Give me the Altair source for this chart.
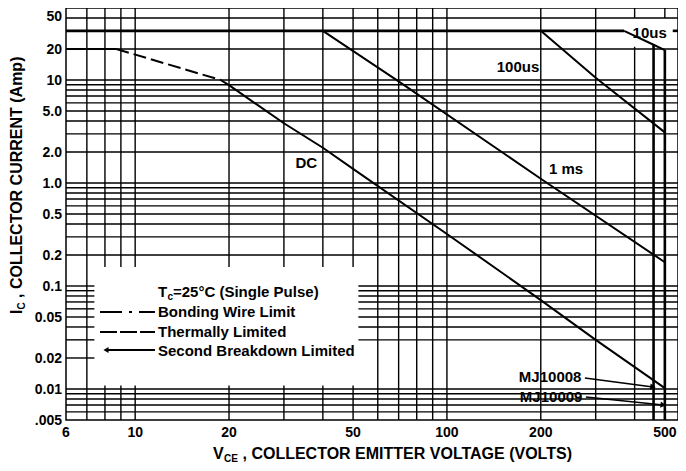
import altair as alt
import pandas as pd

FONT = "Liberation Sans"

# ---- axes -------------------------------------------------------------
x_domain = [6, 551]
y_domain = [0.005, 50]
x_ticks = [6, 10, 20, 50, 100, 200, 500]
x_labels = ["6", "10", "20", "50", "100", "200", "500"]
y_ticks = [20, 10, 5, 2, 1, 0.5, 0.2, 0.1, 0.05, 0.02, 0.01, 0.005]
y_labels = ["20", "10", "5.0", "2.0", "1.0", "0.5", "0.2", "0.1", "0.05", "0.02", "0.01", ".005"]
y_top_tick = [50]
y_top_label = ["50"]

# ---- grid lines -------------------------------------------------------
h_grid = [0.006, 0.007, 0.008, 0.009, 0.01, 0.02, 0.03, 0.04, 0.05, 0.06, 0.07,
          0.08, 0.09, 0.1, 0.2, 0.3, 0.4, 0.5, 0.6, 0.7, 0.8, 0.9, 1, 2, 3, 4,
          5, 6, 7, 8, 9, 10, 20, 30, 40]
v_grid = [7, 8, 9, 10, 20, 30, 40, 50, 60, 70, 80, 90, 100, 200, 300, 400, 500]
legend_box_x = [7.4, 52]
legend_box_y = [0.0108, 0.153]

# ---- SOA curves (V in volts, I in amps) ------------------------------
dc_flat_v = [6, 8.7]
dc_flat_i = [20, 20]
dc_thermal_v = [8.7, 18.8]
dc_thermal_i = [20, 10.0]
dc_sb_v = [18.8, 20, 30, 40, 50, 100, 200, 300, 500]
dc_sb_i = [10.0, 8.9, 3.8, 2.2, 1.37, 0.32, 0.073, 0.030, 0.0102]
ms1_v = [40, 70, 200, 500]
ms1_i = [30, 9.7, 1.1, 0.17]
us100_v = [200, 300, 500]
us100_i = [30, 10.5, 3.1]
us10_v = [370, 460, 500]
us10_i = [30, 22, 19.5]
limit_v = [460, 500]          # MJ10008 / MJ10009 voltage limits
limit_top = [22, 19.5]

# ---- annotations ------------------------------------------------------
ann_text = ["DC", "1 ms", "100us", "10us"]
ann_v = [35.4, 241, 169, 447]
ann_i = [1.56, 1.37, 13.4, 28.6]
mj_text = ["MJ10008", "MJ10009"]
mj_v = [270, 272]
mj_i = [0.0131, 0.0084]
arrow_v1 = [277, 279]
arrow_i1 = [0.0128, 0.00836]
arrow_v2 = [458, 494]
arrow_i2 = [0.01045, 0.0070]
arrow_angle = [7, 6]

xs = alt.Scale(type="log", domain=x_domain, nice=False)
ys = alt.Scale(type="log", domain=y_domain, nice=False)
XMAX = x_domain[1]


def X(f):
    return alt.X(f, scale=xs, axis=None)


def Y(f):
    return alt.Y(f, scale=ys, axis=None)


# build grid segment tables
hrows = []
for v in h_grid:
    w = 1.4
    if v == 30:
        segs = [(6, 370), (530, XMAX)]
        w = 2.6
    elif legend_box_y[0] < v < legend_box_y[1]:
        segs = [(6, legend_box_x[0])] if v == 0.02 else [(6, legend_box_x[0]), (legend_box_x[1], XMAX)]
    else:
        segs = [(6, XMAX)]
    for a, b in segs:
        hrows.append({"y": v, "x1": a, "x2": b, "w": w})
hdf = pd.DataFrame(hrows)

vrows = []
for v in v_grid:
    if legend_box_x[0] < v < legend_box_x[1]:
        segs = [(0.005, legend_box_y[0]), (legend_box_y[1], 50)]
    elif v == 400:
        segs = [(0.005, 21), (40, 50)]
    elif v == 500:
        segs = [(40, 50)]
    else:
        segs = [(0.005, 50)]
    for a, b in segs:
        vrows.append({"x": v, "y1": a, "y2": b})
vdf = pd.DataFrame(vrows)

hgrid = alt.Chart(hdf).mark_rule(color="black").encode(
    y=Y("y:Q"), x=X("x1:Q"), x2="x2:Q",
    strokeWidth=alt.StrokeWidth("w:Q", scale=None),
)
vgrid = alt.Chart(vdf).mark_rule(color="black", strokeWidth=1.4).encode(
    x=X("x:Q"), y=Y("y1:Q"), y2="y2:Q",
)

# tick labels drawn through the scales
tick_kw = dict(font=FONT, fontSize=14, fontWeight="bold", color="black")
xlab = alt.Chart(pd.DataFrame({"v": x_ticks, "t": x_labels, "b": [y_domain[0]] * len(x_ticks)})
                 ).mark_text(align="center", baseline="middle", dy=13, **tick_kw).encode(
    x=X("v:Q"), y=Y("b:Q"), text="t:N")
ylab = alt.Chart(pd.DataFrame({"v": y_ticks, "t": y_labels, "l": [x_domain[0]] * len(y_ticks)})
                 ).mark_text(align="right", baseline="middle", dx=-4, dy=1, **tick_kw).encode(
    x=X("l:Q"), y=Y("v:Q"), text="t:N")
ylab_top = alt.Chart(pd.DataFrame({"v": y_top_tick, "t": y_top_label, "l": [x_domain[0]]})
                     ).mark_text(align="right", baseline="middle", dx=-4, dy=9, **tick_kw).encode(
    x=X("l:Q"), y=Y("v:Q"), text="t:N")


def curve(vs, is_, dash=None, width=2.0):
    df = pd.DataFrame({"V": vs, "I": is_, "o": list(range(len(vs)))})
    kw = dict(color="black", strokeWidth=width)
    if dash:
        kw["strokeDash"] = dash
    return alt.Chart(df).mark_line(**kw).encode(x=X("V:Q"), y=Y("I:Q"), order="o:Q")


layers = [
    hgrid, vgrid, xlab, ylab, ylab_top,
    curve(dc_flat_v, dc_flat_i),
    curve(dc_thermal_v, dc_thermal_i, dash=[13, 5]),
    curve(dc_sb_v, dc_sb_i),
    curve(ms1_v, ms1_i),
    curve(us100_v, us100_i),
    curve(us10_v, us10_i),
]

limdf = pd.DataFrame({"V": limit_v, "top": limit_top, "bot": [y_domain[0]] * 2})
layers.append(alt.Chart(limdf).mark_rule(color="black", strokeWidth=2.6).encode(
    x=X("V:Q"), y=Y("top:Q"), y2="bot:Q"))

anndf = pd.DataFrame({"V": ann_v, "I": ann_i, "t": ann_text})
layers.append(alt.Chart(anndf).mark_text(font=FONT, fontSize=15, fontWeight="bold",
                                         color="black").encode(
    x=X("V:Q"), y=Y("I:Q"), text="t:N"))

mjdf = pd.DataFrame({"V": mj_v, "I": mj_i, "t": mj_text})
layers.append(alt.Chart(mjdf).mark_text(font=FONT, fontSize=15, fontWeight="bold",
                                        color="black", align="right").encode(
    x=X("V:Q"), y=Y("I:Q"), text="t:N"))

arrdf = pd.DataFrame({"V1": arrow_v1, "I1": arrow_i1, "V2": arrow_v2, "I2": arrow_i2,
                      "a": arrow_angle})
layers.append(alt.Chart(arrdf).mark_rule(color="black", strokeWidth=1.5).encode(
    x=X("V1:Q"), y=Y("I1:Q"), x2="V2:Q", y2="I2:Q"))
layers.append(alt.Chart(arrdf).mark_point(shape="triangle-right", filled=True, size=40,
                                          color="black", opacity=1).encode(
    x=X("V2:Q"), y=Y("I2:Q"), angle=alt.Angle("a:Q", scale=None)))


# ---- legend and titles (drawn in plot pixels) -------------------------
def rule_px(x1, x2, y, dash=None, width=1.8):
    kw = dict(color="black", strokeWidth=width)
    if dash:
        kw["strokeDash"] = dash
    return alt.Chart(pd.DataFrame({"k": [0]})).mark_rule(**kw).encode(
        x=alt.value(x1), x2=alt.value(x2), y=alt.value(y))


def text_px(x, y, t, size=15, angle=0, align="left"):
    kw = dict(font=FONT, fontSize=size, fontWeight="bold", color="black",
              align=align, baseline="alphabetic")
    if angle:
        kw["angle"] = angle
    return alt.Chart(pd.DataFrame({"k": [0]})).mark_text(**kw).encode(
        x=alt.value(x), y=alt.value(y), text=alt.value(t))


layers += [
    rule_px(34, 89, 304, dash=[22, 7, 3, 7]),
    rule_px(34, 89, 324, dash=[17, 3]),
    rule_px(42, 89, 342),
    alt.Chart(pd.DataFrame({"k": [0]})).mark_point(shape="triangle-left", filled=True,
                                                   size=35, color="black", opacity=1).encode(
        x=alt.value(40), y=alt.value(342)),
    text_px(92, 289, "T"),
    text_px(101.5, 292, "c", size=10),
    text_px(107, 289, "=25°C (Single Pulse)"),
    text_px(92, 309, "Bonding Wire Limit"),
    text_px(92, 329, "Thermally Limited"),
    text_px(92, 348, "Second Breakdown Limited"),
    # x title
    text_px(147, 451, "V", size=16),
    text_px(158, 454, "CE", size=10),
    text_px(176.5, 451, ", COLLECTOR EMITTER VOLTAGE (VOLTS)", size=16),
    # y title (rotated)
    text_px(-44, 306, "I", size=16, angle=270),
    text_px(-41, 301.5, "C", size=10, angle=270),
    text_px(-44, 290, ", COLLECTOR CURRENT (Amp)", size=16, angle=270),
]

chart = alt.layer(*layers).properties(
    width=612, height=412,
    autosize=alt.AutoSizeParams(type="none"),
    padding={"left": 58, "top": 0, "right": 0, "bottom": 43},
    background="white",
).configure_view(stroke="black", strokeWidth=1.5)

chart.save("out.html", embed_options={"renderer": "svg", "actions": False})
